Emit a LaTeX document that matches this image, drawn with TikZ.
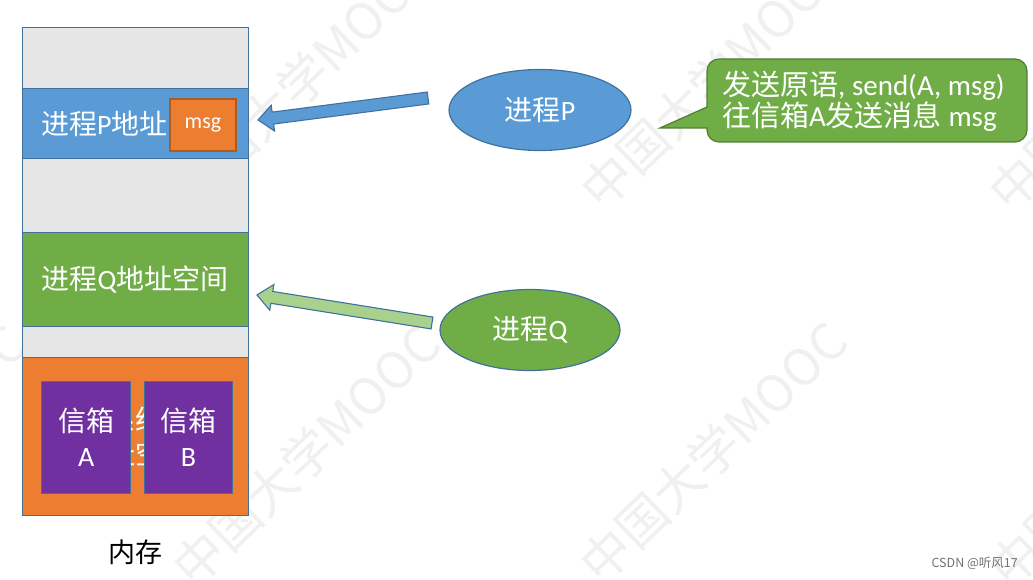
\documentclass[tikz,border=0pt]{standalone}
\usepackage{fontspec}
\setmainfont{Carlito}
\newfontfamily\cjk{Noto Sans CJK SC}
\newcommand\zh[1]{{\cjk #1}}
\usetikzlibrary{calc,shapes.geometric}
\definecolor{bordc}{HTML}{41719C}
\definecolor{memgray}{HTML}{E6E6E6}
\definecolor{pblue}{HTML}{5B9BD5}
\definecolor{qgreen}{HTML}{70AD47}
\definecolor{korange}{HTML}{ED7D31}
\definecolor{mpurple}{HTML}{7030A0}
\definecolor{msgborder}{HTML}{AE5A21}
\definecolor{lgreen}{HTML}{A9D18E}
\definecolor{callborder}{HTML}{507E32}
\newcommand\blockarrow[3]{%
  \coordinate (hb) at ($(#2)!15pt!(#1)$);
  \draw[#3] ($(#1)!6pt!90:(#2)$) -- ($(hb)!6pt!90:(#2)$) -- ($(hb)!13pt!90:(#2)$) -- (#2)
    -- ($(hb)!13pt!-90:(#2)$) -- ($(hb)!6pt!-90:(#2)$) -- ($(#1)!6pt!-90:(#2)$) -- cycle;}
\begin{document}
\begin{tikzpicture}[x=1pt,y=-1pt,
  memcell/.style={draw=bordc, line width=1.4pt, minimum width=226pt, inner sep=0pt, anchor=north west},
  wtext/.style={text=white, inner sep=0pt, font=\fontsize{28}{31}\selectfont},
  proc/.style={ellipse, draw=bordc, line width=1.2pt, minimum width=182pt, minimum height=81pt, inner sep=0pt, text=white, font=\fontsize{28}{31}\selectfont},
  mailbox/.style={draw=bordc, line width=1.2pt, fill=mpurple, minimum width=89pt, minimum height=112pt, inner sep=0pt, anchor=north west},
  barrow/.style={line width=1.1pt, draw=bordc, line join=miter}
]
\useasboundingbox (0,0) rectangle (1033,580);
\fill[white] (0,0) rectangle (1033,580);
% watermark
\begin{scope}
\clip (0,0) rectangle (1033,580);
\foreach \cx/\cy [count=\i] in {-108/80, 302/80, 714/78, 1122/80, -108/455, 306/455, 713/452, 1122/456}
  \node[rotate=44, text=black!6, inner sep=0pt, font=\fontsize{50}{50}\selectfont\cjk] (wm\i) at (\cx,\cy) {中国大学MOOC};
\end{scope}
% memory column
\node[memcell, fill=memgray, minimum height=61pt] (g1) at (22,27) {};
\node[memcell, fill=pblue, minimum height=70pt] (pspace) at (22,88) {};
\node[memcell, fill=memgray, minimum height=74pt] (g2) at (22,158) {};
\node[memcell, fill=qgreen, minimum height=94pt] (qspace) at (22,232) {};
\node[memcell, fill=memgray, minimum height=31pt] (g3) at (22,326) {};
\node[memcell, fill=korange, minimum height=158pt] (kspace) at (22,357) {};
\node[wtext, anchor=west] (ptxt) at (41,124) {\zh{进程}P\zh{地址}};
\node[draw=msgborder, line width=1.2pt, fill=korange, minimum width=66pt, minimum height=52pt, inner sep=0pt, text=white, font=\fontsize{22}{26}\selectfont] (msg) at (203,125) {msg};
\node[wtext] (qtxt) at (135,280) {\zh{进程}Q\zh{地址空间}};
\node[wtext, align=center, font=\fontsize{28}{34}\selectfont\cjk] (ktxt) at (135,437) {操作系统内核\\地址空间};
\node[mailbox] (boxA) at (41,381) {};
\node[mailbox, minimum width=88pt] (boxB) at (144,381) {};
\node[wtext, align=center, font=\fontsize{28}{35}\selectfont] (atxt) at (boxA.center) {\zh{信箱}\\A};
\node[wtext, align=center, font=\fontsize{28}{35}\selectfont] (btxt) at (boxB.center) {\zh{信箱}\\B};
\node[inner sep=0pt, font=\fontsize{27}{30}\selectfont\cjk] (memlabel) at (135,552) {内存};
% processes
\node[proc, fill=pblue] (P) at (540,110) {\zh{进程}P};
\node[proc, fill=qgreen, minimum width=180pt] (Q) at (530,330) {\zh{进程}Q};
% arrows
\coordinate (pTail) at (428,98);
\coordinate (pTip) at (258,120);
\coordinate (qTail) at (432,323);
\coordinate (qTip) at (257,295);
\blockarrow{pTail}{pTip}{barrow, fill=pblue}
\blockarrow{qTail}{qTip}{barrow, fill=lgreen}
% callout
\draw[fill=qgreen, draw=callborder, line width=1.2pt, line join=miter]
  (707,107) -- (660,128) -- (707,128) -- (707,130)
  .. controls (707,136.6) and (712.4,142) .. (719,142) -- (1015,142)
  .. controls (1021.6,142) and (1027,136.6) .. (1027,130) -- (1027,71)
  .. controls (1027,64.4) and (1021.6,59) .. (1015,59) -- (719,59)
  .. controls (712.4,59) and (707,64.4) .. (707,71) -- cycle;
\node[wtext, align=left, anchor=west, font=\fontsize{29}{31}\selectfont] (note) at (722,101) {\zh{发送原语}, send(A, msg)\\\zh{往信箱}A\zh{发送消息} msg};
\node[text=black!55, inner sep=0pt, anchor=east, font=\fontsize{12.5}{14}\selectfont\cjk] (csdn) at (1018,563) {CSDN @听风17};
\end{tikzpicture}
\end{document}
